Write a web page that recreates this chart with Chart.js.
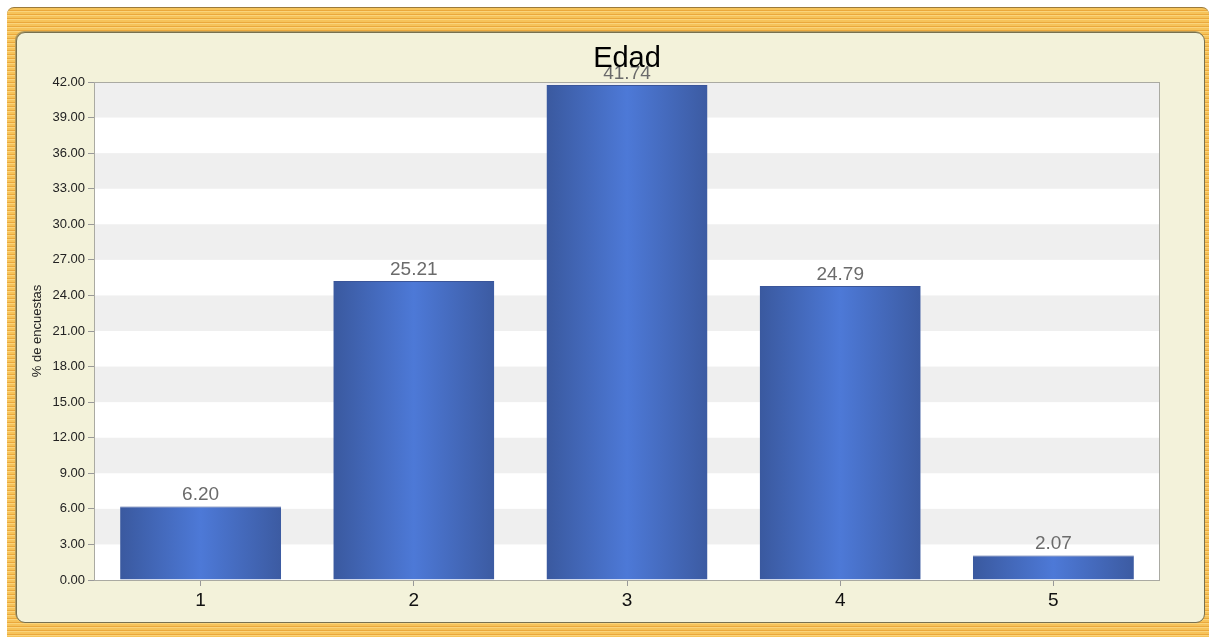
<!DOCTYPE html>
<html>
<head>
<meta charset="utf-8">
<script src="https://cdn.jsdelivr.net/npm/chart.js@4.4.1/dist/chart.umd.min.js"></script>
<style>
  html, body { margin: 0; padding: 0; background: #fff; }
  #wrap { position: relative; width: 1209px; height: 637px; overflow: hidden; }
  #marco {
    position: absolute; left: 7px; top: 7px; width: 1202px; height: 630px;
    border-radius: 7px 7px 0 0; border-top: 1px solid #9b7a3a;
    background: repeating-linear-gradient(180deg, #f6c35a 0px, #f6c35a 2px, #eaa83c 2px, #eaa83c 3px, #fad47c 3px, #fad47c 4px);
  }
  #panel {
    position: absolute; left: 16px; top: 32px; width: 1187px; height: 589px;
    background: #f3f2da; border: 1px solid #77704f; border-radius: 9px;
    box-shadow: -1px -1px 0 #b49a5a;
  }
  canvas { position: absolute; left: 0; top: 0; }
</style>
</head>
<body>
<div id="wrap">
  <div id="marco"></div>
  <div id="panel"></div>
  <canvas id="edadChart" width="1209" height="637"></canvas>
</div>
<script>
// Datos
const categorias = ['1', '2', '3', '4', '5'];
const porcentajes = [6.20, 25.21, 41.74, 24.79, 2.07];
const ejeMin = 0, ejeMax = 42, ejePaso = 3;
const titulo = 'Edad';
const fuente = '"Liberation Sans", Arial, sans-serif';

// Fondo del área: blanco con franjas grises cada 3 unidades, y marco gris
const fondoFranjas = {
    id: 'fondoFranjas',
    beforeDraw(chart) {
        const { ctx, chartArea: a, scales: { y } } = chart;
        ctx.save();
        ctx.fillStyle = '#ffffff';
        ctx.fillRect(a.left, a.top, a.right - a.left, a.bottom - a.top);
        ctx.fillStyle = '#efefef';
        for (let v = ejeMin + ejePaso; v < ejeMax; v += ejePaso * 2) {
            const y1 = y.getPixelForValue(v + ejePaso), y0 = y.getPixelForValue(v);
            ctx.fillRect(a.left, y1, a.right - a.left, y0 - y1);
        }
        ctx.restore();
    },
    afterDatasetsDraw(chart) {
        const { ctx, chartArea: a } = chart;
        ctx.save();
        ctx.strokeStyle = '#aaaaa2';
        ctx.lineWidth = 1;
        ctx.strokeRect(a.left + 0.5, a.top + 0.5, a.right - a.left - 1, a.bottom - a.top);
        ctx.restore();
    }
};

// Etiquetas de valor encima de cada barra y título centrado sobre el área
const etiquetasValor = {
    id: 'etiquetasValor',
    afterDatasetsDraw(chart) {
        const { ctx, chartArea: a } = chart;
        const meta = chart.getDatasetMeta(0);
        ctx.save();
        ctx.font = '19px ' + fuente;
        ctx.fillStyle = '#6b6b6b';
        ctx.textAlign = 'center';
        ctx.textBaseline = 'alphabetic';
        meta.data.forEach((bar, i) => {
            ctx.fillText(porcentajes[i].toFixed(2), bar.x, bar.y - 6);
        });
        ctx.font = '29px ' + fuente;
        ctx.fillStyle = '#000';
        ctx.textBaseline = 'middle';
        ctx.fillText(titulo, (a.left + a.right) / 2, 59);
        ctx.restore();
    }
};

// Degradado horizontal de cada barra: bordes oscuros, centro claro
function degradadoBarra(context) {
    const chart = context.chart;
    const a = chart.chartArea;
    if (!a) return '#4668bb';
    const x = chart.scales.x.getPixelForValue(context.dataIndex);
    const w = (a.right - a.left) / categorias.length * 0.755;
    const g = chart.ctx.createLinearGradient(x - w / 2, 0, x + w / 2, 0);
    g.addColorStop(0, '#3a599f');
    g.addColorStop(0.5, '#4d79d7');
    g.addColorStop(1, '#3c5ba2');
    return g;
}

const edadCtx = document.getElementById('edadChart').getContext('2d');
new Chart(edadCtx, {
    type: 'bar',
    data: {
        labels: categorias,
        datasets: [{
            data: porcentajes,
            backgroundColor: degradadoBarra,
            borderColor: '#3a5599',
            borderWidth: { top: 1, left: 0, right: 0, bottom: 0 },
            categoryPercentage: 1,
            barPercentage: 0.755
        }]
    },
    options: {
        responsive: false,
        animation: false,
        layout: { padding: { left: 0, right: 49, top: 82, bottom: 0 } },
        plugins: {
            legend: { display: false },
            tooltip: { enabled: false },
            title: { display: false }
        },
        scales: {
            x: {
                grid: { display: true, drawOnChartArea: false, offset: false, tickLength: 6, color: '#999' },
                border: { display: false },
                ticks: { color: '#111', padding: 3, font: { size: 19, family: fuente } },
                afterFit(scale) { scale.height = 57; }
            },
            y: {
                min: ejeMin,
                max: ejeMax,
                grid: { display: true, drawOnChartArea: false, tickLength: 6, color: '#999' },
                border: { display: false },
                ticks: {
                    stepSize: ejePaso,
                    color: '#222',
                    padding: 3,
                    font: { size: 13, family: fuente },
                    callback: v => Number(v).toFixed(2)
                },
                title: {
                    display: true,
                    text: '% de encuestas',
                    color: '#222',
                    font: { size: 13, family: fuente },
                    padding: { top: 30, bottom: 0 }
                },
                afterFit(scale) { scale.width = 94; }
            }
        }
    },
    plugins: [fondoFranjas, etiquetasValor]
});
</script>
</body>
</html>
